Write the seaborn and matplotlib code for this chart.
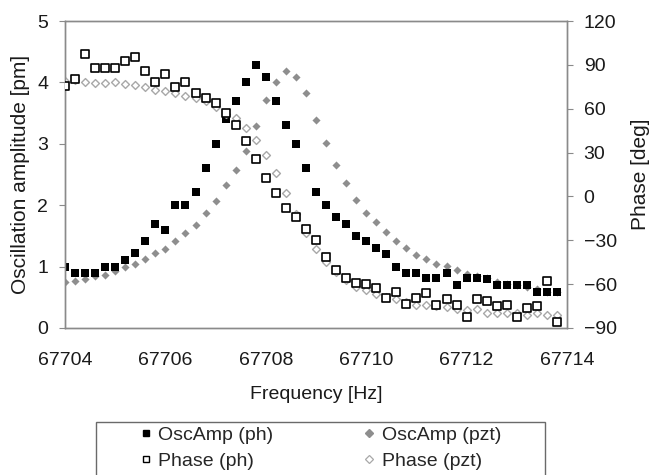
import matplotlib
matplotlib.use("Agg")
import matplotlib.pyplot as plt
import seaborn as sns
import pandas as pd
from matplotlib.lines import Line2D
from matplotlib.patches import Rectangle
from matplotlib.ticker import ScalarFormatter, MultipleLocator

# Frequency sweep [Hz]
freq = [67704.0, 67704.2, 67704.4, 67704.6, 67704.8, 67705.0, 67705.2, 67705.4, 67705.6, 67705.8,
        67706.0, 67706.2, 67706.4, 67706.6, 67706.8, 67707.0, 67707.2, 67707.4, 67707.6, 67707.8,
        67708.0, 67708.2, 67708.4, 67708.6, 67708.8, 67709.0, 67709.2, 67709.4, 67709.6, 67709.8,
        67710.0, 67710.2, 67710.4, 67710.6, 67710.8, 67711.0, 67711.2, 67711.4, 67711.6, 67711.8,
        67712.0, 67712.2, 67712.4, 67712.6, 67712.8, 67713.0, 67713.2, 67713.4, 67713.6, 67713.8]

# Oscillation amplitude [pm]
amp_ph = [1.0, 0.89, 0.89, 0.9, 1.0, 1.0, 1.11, 1.22, 1.41, 1.70,
          1.60, 2.0, 2.0, 2.21, 2.61, 3.0, 3.40, 3.70, 4.0, 4.29,
          4.08, 3.70, 3.30, 3.0, 2.61, 2.21, 2.0, 1.80, 1.70, 1.50,
          1.41, 1.30, 1.20, 1.0, 0.89, 0.89, 0.81, 0.81, 0.89, 0.70,
          0.81, 0.81, 0.80, 0.70, 0.70, 0.70, 0.70, 0.59, 0.59, 0.59]
amp_pzt = [0.75, 0.77, 0.79, 0.84, 0.87, 0.93, 1.0, 1.04, 1.13, 1.22,
           1.29, 1.42, 1.55, 1.68, 1.88, 2.07, 2.33, 2.57, 2.89, 3.29,
           3.72, 4.01, 4.19, 4.09, 3.82, 3.39, 3.02, 2.65, 2.36, 2.08,
           1.88, 1.72, 1.57, 1.42, 1.30, 1.19, 1.12, 1.05, 1.01, 0.94,
           0.88, 0.84, 0.81, 0.75, 0.71, 0.70, 0.67, 0.63, 0.59, 0.59]

# Phase [deg]
phase_ph = [75.5, 80.5, 97.4, 87.6, 87.6, 87.6, 92.9, 95.6, 86.0, 78.0,
            83.5, 75.1, 78.0, 71.0, 67.1, 64.1, 56.8, 48.6, 38.1, 25.6,
            12.4, 2.1, -7.7, -13.8, -22.3, -29.8, -41.7, -50.3, -56.0, -59.0,
            -60.1, -62.4, -69.3, -65.1, -73.8, -69.3, -65.8, -74.5, -69.9, -74.5,
            -82.2, -70.2, -71.3, -74.8, -74.0, -82.7, -76.3, -74.8, -57.8, -86.2]
phase_pzt = [79.2, 79.5, 78.3, 77.8, 77.8, 78.0, 76.9, 76.0, 74.6, 72.8,
             71.9, 70.5, 68.9, 67.1, 65.3, 61.4, 56.4, 53.4, 46.6, 38.6,
             28.3, 16.2, 2.1, -12.0, -24.8, -36.2, -44.6, -51.5, -57.2, -61.7,
             -64.0, -66.7, -69.0, -70.4, -72.0, -74.3, -74.3, -75.0, -75.9, -77.2,
             -77.7, -77.2, -79.5, -79.5, -79.5, -80.0, -81.1, -80.0, -81.1, -81.1]

df = pd.DataFrame({"freq": freq, "amp_ph": amp_ph, "amp_pzt": amp_pzt,
                   "phase_ph": phase_ph, "phase_pzt": phase_pzt})

sns.set_theme(style="white")
plt.rcParams["font.family"] = ["Liberation Sans", "DejaVu Sans"]

GRAY_FILL = "#8e8e8e"
GRAY_EDGE = "#a8a8a8"
SPINE = "#8a8a8a"

fig = plt.figure(figsize=(6.5, 4.75), dpi=100)
ax = fig.add_axes([65 / 650, 1 - 328 / 475, 502 / 650, 307 / 475])
ax2 = ax.twinx()

# amplitude on the left axis
sns.scatterplot(data=df, x="freq", y="amp_ph", ax=ax, marker="s", color="black",
                s=30, linewidth=0, zorder=3)
sns.scatterplot(data=df, x="freq", y="amp_pzt", ax=ax, marker="D", color=GRAY_FILL,
                s=17, linewidth=0, zorder=2)

# phase on the right axis
sns.scatterplot(data=df, x="freq", y="phase_ph", ax=ax2, marker="s", facecolor="white",
                edgecolor="black", s=26, linewidth=1.2, zorder=3)
sns.scatterplot(data=df, x="freq", y="phase_pzt", ax=ax2, marker="D", facecolor="white",
                edgecolor=GRAY_EDGE, s=16, linewidth=1.0, zorder=2)

ax.set_xlim(67704, 67714)
ax.set_ylim(0, 5)
ax2.set_ylim(-90, 120)
ax.xaxis.set_major_locator(MultipleLocator(2))
ax.xaxis.set_major_formatter(ScalarFormatter(useOffset=False))
ax.yaxis.set_major_locator(MultipleLocator(1))
ax2.yaxis.set_major_locator(MultipleLocator(30))

for a in (ax, ax2):
    for sp in a.spines.values():
        sp.set_color(SPINE)
        sp.set_linewidth(1.0)
    a.tick_params(axis="both", direction="out", length=4, width=0.8, color=SPINE,
                  labelsize=14, labelcolor="#1a1a1a", pad=8)
    a.grid(False)
ax.tick_params(axis="x", pad=13)

ax.set_xlabel("Frequency [Hz]", fontsize=14, color="#1a1a1a")
ax.set_ylabel("Oscillation amplitude [pm]", fontsize=15, color="#1a1a1a")
ax2.set_ylabel("Phase [deg]", fontsize=15, color="#1a1a1a")
ax.xaxis.set_label_coords(0.5, -0.19)
ax.yaxis.set_label_coords(-0.07, 0.5)
ax2.yaxis.set_label_coords(1.128, 0.5)
ax2.yaxis.label.set_rotation(90)

# legend
handles = [
    Line2D([], [], marker="s", linestyle="none", color="black", markersize=5),
    Line2D([], [], marker="s", linestyle="none", markerfacecolor="white",
           markeredgecolor="black", markeredgewidth=1.0, markersize=5),
    Line2D([], [], marker="D", linestyle="none", color=GRAY_FILL, markersize=3.6),
    Line2D([], [], marker="D", linestyle="none", markerfacecolor="white",
           markeredgecolor=GRAY_EDGE, markeredgewidth=0.9, markersize=3.6),
]
labels = ["OscAmp (ph)", "Phase (ph)", "OscAmp (pzt)", "Phase (pzt)"]
fig.legend(handles, labels, loc="upper left", bbox_to_anchor=(140 / 650, 1 - 426 / 475),
           ncol=2, frameon=False, fontsize=14, handlelength=0.6, handletextpad=0.35,
           columnspacing=4.6, labelspacing=0.45, borderpad=0, borderaxespad=0)
fig.patches.append(Rectangle((96 / 650, -0.02), 449 / 650, 0.02 + 1 - 422 / 475,
                             transform=fig.transFigure, fill=False,
                             edgecolor="#6a6a6a", linewidth=1.0))

fig.savefig("out.png", dpi=100)
